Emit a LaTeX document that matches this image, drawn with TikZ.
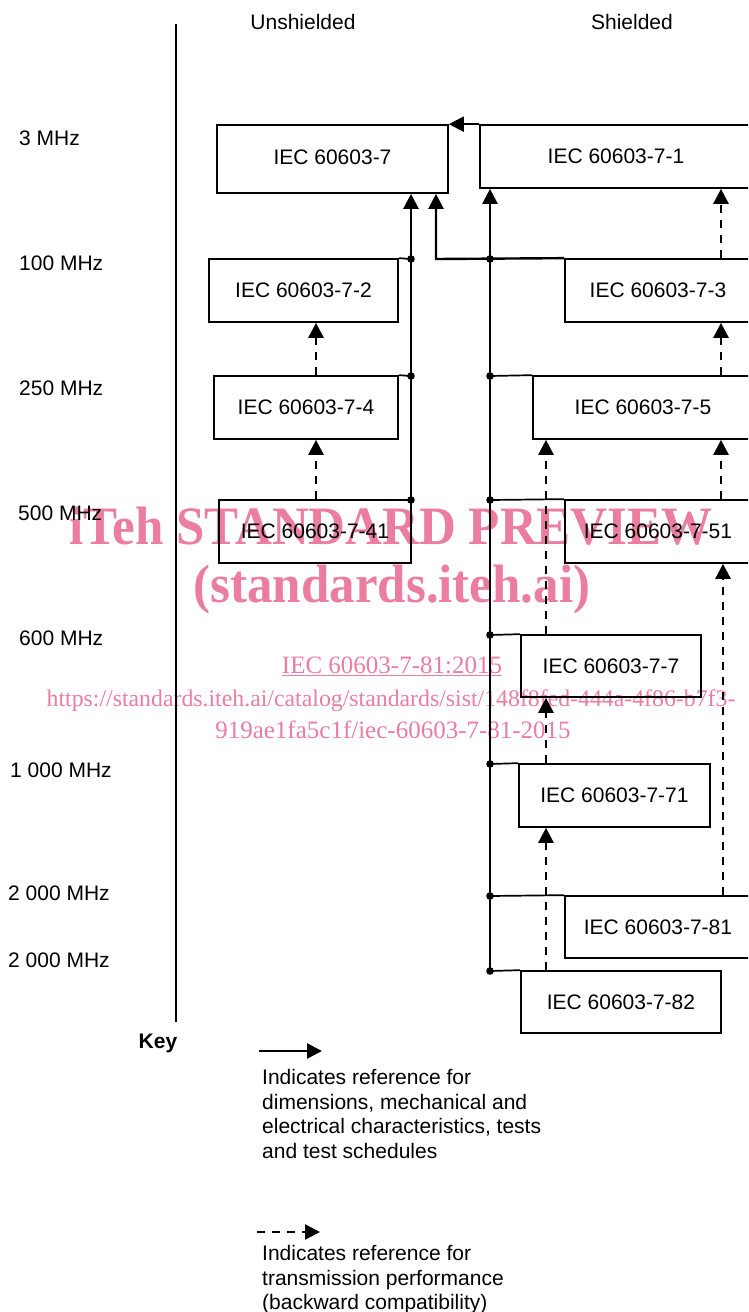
\documentclass[tikz,border=0pt]{standalone}
\usepackage{fontspec}
\setmainfont{Liberation Sans}
\newfontfamily\wmfont{Liberation Serif}
\usetikzlibrary{arrows.meta}
\definecolor{wmpink}{RGB}{234,125,160}
\begin{document}
\begin{tikzpicture}[x=1pt,y=-1pt,
  box/.style={draw, line width=1.7pt, inner sep=0pt, font=\fontsize{21}{24}\selectfont},
  lbl/.style={inner sep=0pt, font=\fontsize{21}{24.5}\selectfont},
  conn/.style={line width=1.7pt},
  solidarrow/.style={line width=2.4pt, -{Triangle[length=15pt,width=15pt]}},
  dasharrow/.style={line width=2.7pt, dash pattern=on 8pt off 7pt, -{Triangle[length=15pt,width=15pt]}},
  wmbig/.style={inner sep=0pt, text=wmpink, yscale=1.06, font=\wmfont\bfseries\fontsize{51}{51}\selectfont},
  wmsmall/.style={inner sep=0pt, text=wmpink, anchor=base, font=\wmfont\fontsize{25}{25}\selectfont}
]
\useasboundingbox (0,0) rectangle (748,1312);
\clip (0,0) rectangle (748,1312);

% watermark (behind the diagram)
\node[wmbig] (wm1) at (391,526) {iTeh STANDARD PREVIEW};
\node[wmbig] (wm2) at (392,589) {(standards.iteh.ai)};
\node[wmsmall] (wm3) at (392,673.5) {\underline{IEC 60603-7-81:2015}};
\node[wmsmall, font=\wmfont\fontsize{23.8}{25}\selectfont] (wm4) at (391,706.5) {https://standards.iteh.ai/catalog/standards/sist/148f8fed-444a-4f86-b7f3-};
\node[wmsmall] (wm5) at (393,738.5) {919ae1fa5c1f/iec-60603-7-81-2015};

% headers
\node[lbl] (hu) at (303,22) {Unshielded};
\node[lbl] (hs) at (632,22) {Shielded};

% frequency labels
\node[lbl, anchor=west] (f1) at (19,138) {3 MHz};
\node[lbl, anchor=west] (f2) at (19,263) {100 MHz};
\node[lbl, anchor=west] (f3) at (19,388) {250 MHz};
\node[lbl, anchor=west] (f4) at (18,513) {500 MHz};
\node[lbl, anchor=west] (f5) at (19,638) {600 MHz};
\node[lbl, anchor=west] (f6) at (10,770) {1 000 MHz};
\node[lbl, anchor=west] (f7) at (8,893) {2 000 MHz};
\node[lbl, anchor=west] (f8) at (8,960) {2 000 MHz};

% left divider
\coordinate (lt) at (176,24);
\coordinate (lb) at (176,1022);
\draw[conn] (lt) -- (lb);

% boxes
\node[box, minimum width=231pt, minimum height=68pt] (b7) at (332.5,159) {\raisebox{4pt}{IEC 60603-7}};
\node[box, minimum width=272pt, minimum height=63pt] (b71) at (616,156.5) {IEC 60603-7-1};
\node[box, minimum width=189pt, minimum height=63pt] (b72) at (303.5,290.5) {IEC 60603-7-2};
\node[box, minimum width=186pt, minimum height=63pt] (b73) at (658,290.5) {IEC 60603-7-3};
\node[box, minimum width=184pt, minimum height=63pt] (b74) at (306,407.5) {IEC 60603-7-4};
\node[box, minimum width=220pt, minimum height=63pt] (b75) at (643,407.5) {IEC 60603-7-5};
\node[box, minimum width=192pt, minimum height=63pt] (b741) at (315,531.5) {IEC 60603-7-41};
\node[box, minimum width=186pt, minimum height=63pt] (b751) at (658,531.5) {IEC 60603-7-51};
\node[box, minimum width=180pt, minimum height=62pt] (b77) at (611,666) {IEC 60603-7-7};
\node[box, minimum width=191pt, minimum height=63pt] (b771) at (614.5,795.5) {IEC 60603-7-71};
\node[box, minimum width=186pt, minimum height=62pt] (b781) at (658,927) {IEC 60603-7-81};
\node[box, minimum width=200pt, minimum height=62pt] (b782) at (621,1002) {IEC 60603-7-82};

% bus junctions
\coordinate (u1) at (411,259);
\coordinate (u2) at (411,376);
\coordinate (u3) at (411,500);
\coordinate (s1) at (490,259);
\coordinate (s2) at (490,376);
\coordinate (s3) at (490,500);
\coordinate (s4) at (490,635);
\coordinate (s5) at (490,764);
\coordinate (s6) at (490,896);
\coordinate (s7) at (490,971);
\coordinate (j) at (436,259);
\coordinate (xa) at (316,0);
\coordinate (xb) at (721,0);
\coordinate (xc) at (546,0);
\coordinate (xd) at (723,0);

% solid references
\draw[solidarrow] (u3) -- (u3 |- b7.south);
\draw[conn] (b72.north east) -- (u1);
\draw[conn] (b74.north east) -- (u2);
\draw[solidarrow] (s7) -- (s7 |- b71.south);
\draw[solidarrow] (b73.north west) -- (j) -- (j |- b7.south);
\draw[solidarrow] (b71.north west) -- (b7.north east);
\draw[conn] (s2) -- (b75.north west);
\draw[conn] (s3) -- (b751.north west);
\draw[conn] (s4) -- (b77.north west);
\draw[conn] (s5) -- (b771.north west);
\draw[conn] (s6) -- (b781.north west);
\draw[conn] (s7) -- (b782.north west);
\foreach \p in {u1,u2,u3,s1,s2,s3,s4,s5,s6,s7} \fill (\p) circle (3.8pt);

% dashed references
\draw[dasharrow] (xa |- b74.north) -- (xa |- b72.south);
\draw[dasharrow] (xa |- b741.north) -- (xa |- b74.south);
\draw[dasharrow] (xb |- b73.north) -- (xb |- b71.south);
\draw[dasharrow] (xb |- b75.north) -- (xb |- b73.south);
\draw[dasharrow] (xb |- b751.north) -- (xb |- b75.south);
\draw[dasharrow] (xc |- b77.north) -- (xc |- b75.south);
\draw[dasharrow] (xc |- b771.north) -- (xc |- b77.south);
\draw[dasharrow] (xc |- b782.north) -- (xc |- b771.south);
\draw[dasharrow] (xd |- b781.north) -- (xd |- b751.south);

% key
\node[lbl, font=\bfseries\fontsize{21}{24}\selectfont] (key) at (158,1043) {Key};
\coordinate (k1s) at (259,1051);
\coordinate (k1e) at (322,1051);
\draw[solidarrow] (k1s) -- (k1e);
\node[lbl, anchor=north west, align=left] (k1t) at (262,1069.5) {Indicates reference for\\dimensions, mechanical and\\electrical characteristics, tests\\and test schedules};
\coordinate (k2s) at (257,1232);
\coordinate (k2e) at (320,1232);
\draw[dasharrow, line width=2.4pt] (k2s) -- (k2e);
\node[lbl, anchor=north west, align=left] (k2t) at (262,1245.5) {Indicates reference for\\transmission performance\\(backward compatibility)};
\end{tikzpicture}
\end{document}
